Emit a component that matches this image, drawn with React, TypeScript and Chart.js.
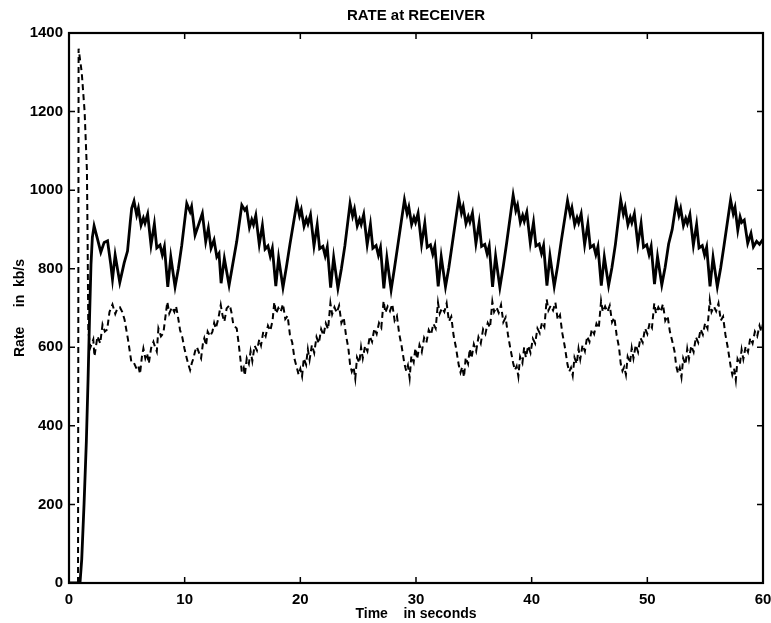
import { useEffect, useRef } from "react";
import { Chart, registerables } from "chart.js";

Chart.register(...registerables);

const titleText = "RATE at RECEIVER";
const xTitle = "Time    in seconds";
const yTitle = "Rate     in  kb/s";

const xTicks = [0, 10, 20, 30, 40, 50, 60];
const yTicks = [0, 200, 400, 600, 800, 1000, 1200, 1400];

// Solid curve (upper)
const solidTime = [
  0, 0.95, 1.1, 1.3, 1.5, 1.65, 1.78, 1.9, 2.02, 2.17, 2.46, 2.75, 3.04, 3.33, 3.61, 3.76, 3.99, 4.39, 4.77, 5.06, 5.3, 5.42,
  5.62, 5.85, 6.0, 6.23, 6.43, 6.57, 6.8, 7.09, 7.38, 7.59, 7.87, 8.07, 8.25, 8.54, 8.8, 9.17, 9.46, 9.75,
  10.18, 10.47, 10.6, 10.9, 11.19, 11.53, 11.82, 12.05, 12.28, 12.54, 12.78, 12.97, 13.15, 13.43, 13.84, 14.1, 14.5,
  14.94, 15.2, 15.35, 15.6, 15.8, 15.95, 16.15, 16.45, 16.72, 16.95, 17.2, 17.4, 17.58, 17.88, 18.12, 18.5, 18.8, 19.1,
  19.7, 19.93, 20.08, 20.32, 20.52, 20.66, 20.88, 21.18, 21.46, 21.67, 21.95, 22.15, 22.33, 22.62, 22.88, 23.25, 23.55, 23.85,
  24.3, 24.52, 24.68, 24.92, 25.12, 25.26, 25.48, 25.78, 26.06, 26.27, 26.55, 26.75, 26.93, 27.22, 27.48, 27.85, 28.14, 28.44,
  29.0, 29.23, 29.38, 29.62, 29.82, 29.96, 30.18, 30.48, 30.76, 30.97, 31.25, 31.45, 31.63, 31.92, 32.18, 32.55, 32.84, 33.14,
  33.7, 33.93, 34.08, 34.32, 34.52, 34.66, 34.88, 35.18, 35.46, 35.67, 35.95, 36.15, 36.33, 36.62, 36.88, 37.25, 37.54, 37.84,
  38.4, 38.63, 38.78, 39.02, 39.22, 39.36, 39.58, 39.88, 40.16, 40.37, 40.65, 40.85, 41.03, 41.32, 41.58, 41.95, 42.24, 42.54,
  43.1, 43.33, 43.48, 43.72, 43.92, 44.06, 44.28, 44.58, 44.86, 45.07, 45.35, 45.55, 45.73, 46.02, 46.28, 46.65, 46.94, 47.24,
  47.7, 47.93, 48.08, 48.32, 48.52, 48.66, 48.88, 49.18, 49.46, 49.67, 49.95, 50.15, 50.33, 50.62, 50.88, 51.25, 51.54, 51.84, 52.15,
  52.5, 52.73, 52.88, 53.12, 53.32, 53.46, 53.68, 53.98, 54.26, 54.47, 54.75, 54.95, 55.13, 55.42, 55.68, 56.05, 56.34, 56.64,
  57.2, 57.43, 57.58, 57.82, 58.02, 58.16, 58.38, 58.68, 58.96, 59.17, 59.45, 59.7, 60.0,
];
const solidRate = [
  0, 0, 60, 200, 360, 520, 680, 810, 880, 909, 876, 842, 867, 871, 811, 773, 835, 765, 815, 845, 920, 954,
  972, 937, 954, 911, 929, 916, 939, 860, 914, 853, 860, 835, 856, 754, 830, 754, 801, 860,
  966, 945, 958, 886, 911, 941, 869, 903, 852, 873, 830, 839, 763, 826, 758, 802, 869,
  962, 949, 955, 905, 925, 912, 936, 862, 910, 850, 858, 832, 852, 756, 828, 752, 805, 862,
  968, 935, 950, 908, 927, 914, 937, 858, 912, 851, 857, 833, 855, 752, 829, 750, 800, 858,
  966, 934, 952, 909, 926, 913, 938, 861, 913, 852, 859, 834, 854, 750, 828, 746, 802, 862,
  975, 940, 957, 913, 931, 918, 941, 862, 916, 855, 861, 837, 857, 755, 831, 754, 803, 864,
  979, 942, 958, 915, 933, 919, 942, 864, 917, 857, 862, 838, 858, 754, 832, 752, 805, 866,
  987, 948, 962, 918, 936, 921, 944, 866, 918, 858, 863, 839, 859, 757, 833, 755, 806, 867,
  973, 938, 955, 912, 930, 917, 940, 861, 914, 854, 860, 836, 856, 757, 830, 757, 803, 862,
  975, 939, 956, 912, 931, 917, 940, 862, 915, 855, 861, 836, 857, 761, 831, 759, 804, 863, 900,
  969, 936, 953, 910, 928, 915, 938, 860, 913, 853, 859, 835, 855, 755, 829, 754, 802, 861,
  975, 940, 956, 898, 932, 918, 924, 865, 890, 856, 870, 862, 875,
];

// Dashed curve (lower)
const lowerTime = [
  0.78, 0.83, 1.1, 1.35, 1.55, 1.6, 1.67, 1.85, 2.1, 2.2, 2.46, 2.7, 2.9, 3.1, 3.3, 3.5, 3.76, 4.0, 4.2, 4.4, 4.6, 4.8, 5.1, 5.4,
  5.62, 5.85, 6.0, 6.14, 6.3, 6.43, 6.6, 6.75, 6.9, 7.1, 7.3, 7.45, 7.59, 7.73, 7.95, 8.16, 8.3, 8.5, 8.67, 8.9, 9.11, 9.25, 9.4, 9.6, 9.8, 9.98,
  10.18, 10.32, 10.47, 10.62, 10.76, 10.9, 11.05, 11.25, 11.42, 11.58, 11.7, 11.85, 11.99, 12.2, 12.4, 12.55, 12.69, 12.92, 13.12, 13.28, 13.43, 13.63, 13.9, 14.05, 14.21, 14.5, 14.65, 14.8,
  14.94, 15.1, 15.2, 15.37, 15.55, 15.7, 15.85, 16.05, 16.25, 16.45, 16.6, 16.8, 17.0, 17.2, 17.4, 17.6, 17.75, 17.9, 18.1, 18.3, 18.5, 18.7, 18.9, 19.1, 19.3, 19.5,
  19.7, 19.85, 20.0, 20.15, 20.3, 20.5, 20.65, 20.8, 21.0, 21.2, 21.4, 21.6, 21.8, 22.0, 22.2, 22.4, 22.6, 22.75, 22.95, 23.15, 23.35, 23.55, 23.75, 23.95, 24.15,
  24.3, 24.45, 24.6, 24.75, 24.9, 25.1, 25.25, 25.4, 25.6, 25.8, 26.0, 26.2, 26.4, 26.6, 26.8, 27.0, 27.2, 27.35, 27.55, 27.75, 27.95, 28.15, 28.35, 28.55, 28.75,
  29.0, 29.15, 29.3, 29.45, 29.6, 29.8, 29.95, 30.1, 30.3, 30.5, 30.7, 30.9, 31.1, 31.3, 31.5, 31.7, 31.9, 32.05, 32.25, 32.45, 32.65, 32.85, 33.05, 33.25, 33.45,
  33.7, 33.85, 34.0, 34.15, 34.3, 34.5, 34.65, 34.8, 35.0, 35.2, 35.4, 35.6, 35.8, 36.0, 36.2, 36.4, 36.6, 36.75, 36.95, 37.15, 37.35, 37.55, 37.75, 37.95, 38.15,
  38.4, 38.55, 38.7, 38.85, 39.0, 39.2, 39.35, 39.5, 39.7, 39.9, 40.1, 40.3, 40.5, 40.7, 40.9, 41.1, 41.3, 41.45, 41.65, 41.85, 42.05, 42.25, 42.45, 42.65, 42.85,
  43.1, 43.25, 43.4, 43.55, 43.7, 43.9, 44.05, 44.2, 44.4, 44.6, 44.8, 45.0, 45.2, 45.4, 45.6, 45.8, 46.0, 46.15, 46.35, 46.55, 46.75, 46.95, 47.15, 47.35, 47.55,
  47.7, 47.85, 48.0, 48.15, 48.3, 48.5, 48.65, 48.8, 49.0, 49.2, 49.4, 49.6, 49.8, 50.0, 50.2, 50.4, 50.6, 50.75, 50.95, 51.15, 51.35, 51.55, 51.75, 51.95, 52.15, 52.35,
  52.5, 52.65, 52.8, 52.95, 53.1, 53.3, 53.45, 53.6, 53.8, 54.0, 54.2, 54.4, 54.6, 54.8, 55.0, 55.2, 55.4, 55.55, 55.75, 55.95, 56.15, 56.35, 56.55, 56.75, 56.95,
  57.2, 57.35, 57.5, 57.65, 57.8, 58.0, 58.15, 58.3, 58.5, 58.7, 58.9, 59.1, 59.3, 59.5, 59.7, 59.85, 60.0,
];
const lowerRate = [
  0, 1360, 1300, 1200, 1050, 900, 640, 600, 620, 577, 628, 610, 658, 640, 645, 690, 709, 685, 700, 702, 690, 671, 620, 561,
  560, 545, 552, 532, 575, 597, 572, 585, 559, 598, 614, 600, 589, 648, 628, 636, 669, 716, 686, 702, 690, 705, 682, 644, 625, 597,
  572, 556, 542, 560, 572, 590, 601, 585, 572, 610, 623, 605, 640, 628, 640, 662, 648, 674, 708, 680, 665, 699, 708, 688, 657, 648, 614, 575,
  538, 548, 528, 572, 558, 590, 565, 604, 592, 620, 605, 640, 628, 655, 642, 668, 715, 686, 700, 690, 710, 672, 680, 632, 612, 570,
  548, 530, 545, 526, 572, 556, 595, 568, 606, 586, 626, 610, 646, 630, 661, 646, 712, 684, 702, 688, 706, 662, 676, 630, 598,
  556, 538, 550, 520, 574, 560, 600, 572, 604, 590, 628, 614, 648, 634, 662, 650, 718, 688, 704, 692, 710, 668, 680, 634, 604,
  558, 540, 554, 522, 578, 562, 598, 570, 606, 588, 624, 612, 644, 632, 660, 648, 714, 686, 700, 690, 712, 666, 678, 630, 600,
  554, 536, 550, 524, 574, 558, 596, 572, 608, 590, 626, 610, 646, 634, 662, 650, 716, 690, 702, 688, 708, 664, 676, 632, 598,
  560, 542, 552, 526, 576, 560, 600, 574, 604, 586, 622, 610, 648, 636, 664, 652, 722, 694, 706, 694, 714, 670, 682, 636, 604,
  556, 538, 548, 528, 574, 558, 596, 570, 606, 590, 628, 614, 646, 634, 660, 648, 718, 690, 704, 690, 706, 664, 676, 630, 600,
  558, 540, 550, 530, 576, 560, 598, 572, 606, 588, 624, 612, 648, 634, 662, 650, 712, 686, 702, 690, 710, 668, 680, 640, 616, 590,
  552, 534, 548, 524, 572, 556, 596, 570, 604, 588, 626, 612, 646, 632, 662, 648, 720, 690, 704, 692, 712, 668, 678, 632, 600,
  552, 530, 546, 516, 570, 556, 594, 570, 602, 588, 624, 610, 640, 628, 655, 640, 660,
];

const FONT = "'Liberation Sans', Arial, Helvetica, sans-serif";

const framePlugin = {
  id: "matlabFrame",
  afterDraw(chart: any) {
    const { ctx, chartArea: a, scales } = chart;
    ctx.save();
    ctx.strokeStyle = "#000";
    ctx.lineWidth = 1.5;
    const L = 6;
    ctx.beginPath();
    for (const v of xTicks) {
      const px = scales.x.getPixelForValue(v);
      ctx.moveTo(px, a.bottom);
      ctx.lineTo(px, a.bottom - L);
      ctx.moveTo(px, a.top);
      ctx.lineTo(px, a.top + L);
    }
    for (const v of yTicks) {
      const py = scales.y.getPixelForValue(v);
      ctx.moveTo(a.left, py);
      ctx.lineTo(a.left + L, py);
      ctx.moveTo(a.right, py);
      ctx.lineTo(a.right - L, py);
    }
    ctx.stroke();
    ctx.lineWidth = 2.2;
    ctx.strokeRect(a.left, a.top, a.right - a.left, a.bottom - a.top);
    ctx.restore();
  },
};

export default function App() {
  const ref = useRef<HTMLCanvasElement | null>(null);

  useEffect(() => {
    if (!ref.current) return;
    const solid = solidTime.map((t, i) => ({ x: t, y: solidRate[i] }));
    const lower = lowerTime.map((t, i) => ({ x: t, y: lowerRate[i] }));
    const chart = new Chart(ref.current, {
      type: "line",
      data: {
        datasets: [
          {
            data: solid,
            borderColor: "#000",
            borderWidth: 2.8,
            pointRadius: 0,
            tension: 0,
            fill: false,
          },
          {
            data: lower,
            borderColor: "#000",
            borderWidth: 2,
            borderDash: [6, 4],
            pointRadius: 0,
            tension: 0,
            fill: false,
          },
        ],
      },
      options: {
        responsive: false,
        animation: false,
        layout: { padding: { left: 0, right: 0, top: 0, bottom: 0 } },
        plugins: {
          legend: { display: false },
          tooltip: { enabled: false },
          title: {
            display: true,
            text: titleText,
            fullSize: false,
            color: "#000",
            font: { family: FONT, size: 15, weight: "bold", lineHeight: 1.2 },
            padding: { top: 7, bottom: 8 },
          },
        },
        scales: {
          x: {
            type: "linear",
            min: 0,
            max: 60,
            afterFit: (s: any) => {
              s.height = 40;
              s.paddingLeft = 0;
              s.paddingRight = 8;
            },
            ticks: {
              stepSize: 10,
              color: "#000",
              padding: 8,
              maxRotation: 0,
              callback: (v: any) => String(v),
              font: { family: FONT, size: 15, weight: "bold" },
            },
            grid: { display: false, drawTicks: false },
            border: { display: false },
            title: {
              display: true,
              text: xTitle,
              color: "#000",
              font: { family: FONT, size: 14, weight: "bold", lineHeight: 1.2 },
              padding: { top: 0, bottom: 0 },
            },
          },
          y: {
            type: "linear",
            min: 0,
            max: 1400,
            afterFit: (s: any) => {
              s.width = 69;
            },
            ticks: {
              stepSize: 200,
              color: "#000",
              padding: 6,
              callback: (v: any) => String(v),
              font: { family: FONT, size: 15, weight: "bold" },
            },
            grid: { display: false, drawTicks: false },
            border: { display: false },
            title: {
              display: true,
              text: yTitle,
              color: "#000",
              font: { family: FONT, size: 14, weight: "bold", lineHeight: 1.2 },
              padding: { top: 12, bottom: 0 },
            },
          },
        },
      },
      plugins: [framePlugin],
    });
    return () => chart.destroy();
  }, []);

  return (
    <canvas
      ref={ref}
      width={771}
      height={623}
      style={{ position: "fixed", left: 0, top: 0, width: 771, height: 623, display: "block", background: "#fff" }}
    />
  );
}
